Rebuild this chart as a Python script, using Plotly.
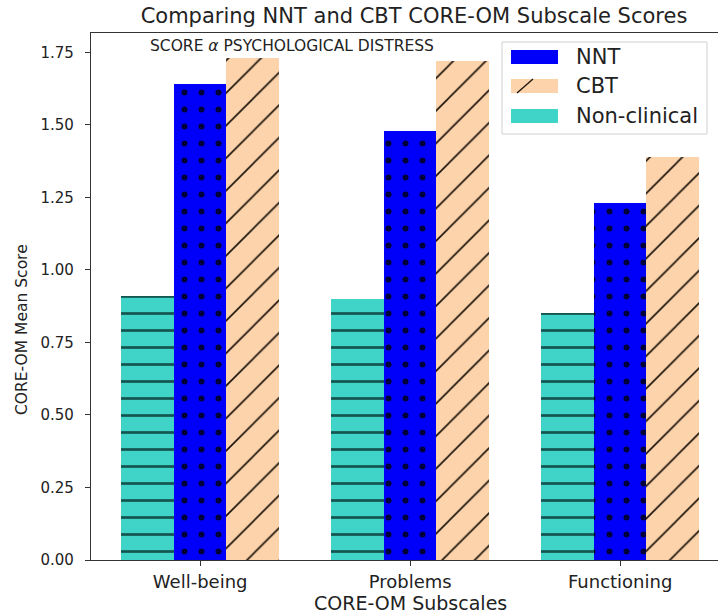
import plotly.graph_objects as go

categories = ["Well-being", "Problems", "Functioning"]
series_names = ["NNT", "CBT", "Non-clinical"]
nnt = [1.64, 1.48, 1.23]
cbt = [1.73, 1.72, 1.39]
nonclinical = [0.91, 0.90, 0.85]
y_ticks = [0.0, 0.25, 0.5, 0.75, 1.0, 1.25, 1.5, 1.75]

FONT = "DejaVu Sans"
TXT = "#222222"
C_NNT, C_CBT, C_NC = "#0000FA", "#FCD3AA", "#40D4C9"

bar_w = 0.25
pos = list(range(len(categories)))

fig = go.Figure()
fig.add_bar(
    x=[p - bar_w for p in pos], y=nonclinical, width=bar_w, name=series_names[2],
    marker=dict(color=C_NC, line_width=0,
                pattern=dict(shape="-", fgcolor="#145550", bgcolor=C_NC, size=17, solidity=0.16)),
    showlegend=False)
fig.add_bar(
    x=pos, y=nnt, width=bar_w, name=series_names[0],
    marker=dict(color=C_NNT, line_width=0,
                pattern=dict(shape=".", fgcolor="#00003A", bgcolor=C_NNT, size=17, solidity=0.1)),
    showlegend=False)
fig.add_bar(
    x=[p + bar_w for p in pos], y=cbt, width=bar_w, name=series_names[1],
    marker=dict(color=C_CBT, line_width=0,
                pattern=dict(shape="/", fgcolor="#1A120A", bgcolor=C_CBT, size=23, solidity=0.07)),
    showlegend=False)

W, H = 718, 614
L, R, T, B = 91, 0, 33, 54
pw, ph = W - L - R, H - T - B


def px_x(px):
    return (px - L) / pw


def px_y(py):
    return (H - B - py) / ph


shapes = []
annotations = []

# custom legend
shapes.append(dict(type="rect", xref="paper", yref="paper",
                   x0=px_x(502), x1=px_x(707), y0=px_y(134), y1=px_y(42),
                   line=dict(color="#D0D0D0", width=1), fillcolor="rgba(255,255,255,0.85)", layer="above"))
legend_rows = [(series_names[0], C_NNT, 57), (series_names[1], C_CBT, 86), (series_names[2], C_NC, 116)]
for name, col, yc in legend_rows:
    shapes.append(dict(type="rect", xref="paper", yref="paper",
                       x0=px_x(511), x1=px_x(558), y0=px_y(yc + 7), y1=px_y(yc - 7),
                       line=dict(width=0), fillcolor=col, layer="above"))
    annotations.append(dict(text=name, xref="paper", yref="paper", x=px_x(574), y=px_y(yc),
                            xanchor="left", yanchor="middle", showarrow=False,
                            font=dict(family=FONT, size=21, color=TXT)))
shapes.append(dict(type="line", xref="paper", yref="paper",
                   x0=px_x(517), x1=px_x(533), y0=px_y(93), y1=px_y(79),
                   line=dict(color="#1A120A", width=1.3), layer="above"))

annotations.append(dict(text="SCORE <i>α</i> PSYCHOLOGICAL DISTRESS", xref="x", yref="y",
                        x=-0.25, y=1.77, xanchor="left", yanchor="middle", showarrow=False,
                        font=dict(family=FONT, size=15.5, color=TXT)))
annotations.append(dict(text="CORE-OM Subscales", xref="x", yref="paper", x=1.0, y=px_y(603),
                        xanchor="center", yanchor="middle", showarrow=False,
                        font=dict(family=FONT, size=19, color=TXT)))
annotations.append(dict(text="CORE-OM Mean Score", xref="paper", yref="paper", x=px_x(22), y=px_y(330),
                        xanchor="center", yanchor="middle", showarrow=False, textangle=-90,
                        font=dict(family=FONT, size=15.5, color=TXT)))

fig.update_layout(
    template="none",
    width=W, height=H,
    margin=dict(l=L, r=R, t=T, b=B, pad=0, autoexpand=False),
    paper_bgcolor="white", plot_bgcolor="white",
    font=dict(family=FONT, color=TXT),
    title=dict(text="Comparing NNT and CBT CORE-OM Subscale Scores", x=px_x(414), xref="paper",
               xanchor="center", y=1 - 16 / H, yref="container", yanchor="middle",
               font=dict(family=FONT, size=21, color=TXT)),
    shapes=shapes, annotations=annotations,
    bargap=0, showlegend=False,
)
fig.update_xaxes(range=[-0.52, 2.466], tickvals=pos, ticktext=categories, automargin=False,
                 showline=True, mirror=True, linecolor="#333333", linewidth=1.2,
                 ticks="outside", ticklen=5, tickcolor="#333333", showgrid=False, zeroline=False,
                 tickfont=dict(family=FONT, size=18, color=TXT))
fig.update_yaxes(range=[0, 1.8165], tickvals=y_ticks, tickformat=".2f", automargin=False,
                 showline=True, linecolor="#333333", linewidth=1.2,
                 ticks="outside", ticklen=5, tickcolor="#333333", showgrid=False, zeroline=False,
                 ticklabelstandoff=8,
                 tickfont=dict(family=FONT, size=15, color=TXT))

fig.write_html("out.html", config={"displayModeBar": False},
               post_script="document.body.style.margin='0';document.body.style.overflow='hidden';")
